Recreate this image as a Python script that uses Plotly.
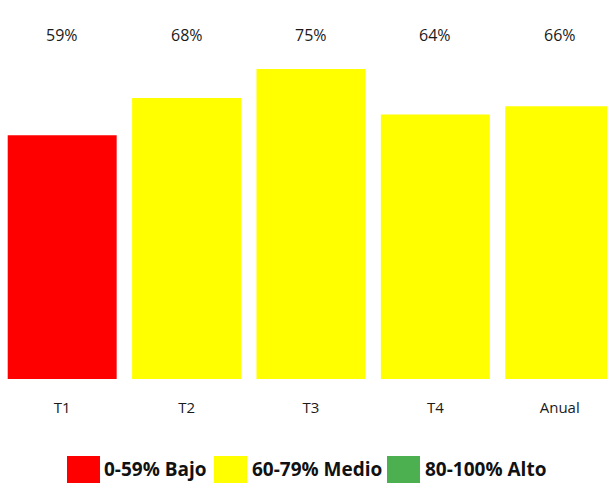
import plotly.graph_objects as go

categories = ["T1", "T2", "T3", "T4", "Anual"]
values = [59, 68, 75, 64, 66]
bar_colors = ["#FF0000", "#FFFF00", "#FFFF00", "#FFFF00", "#FFFF00"]
value_labels = ["59%", "68%", "75%", "64%", "66%"]
legend_labels = ["0-59% Bajo", "60-79% Medio", "80-100% Alto"]
legend_colors = ["#FF0000", "#FFFF00", "#4CAF50"]

W, H = 607, 483
PLOT_TOP, PLOT_BOTTOM = 7, 379
PH = PLOT_BOTTOM - PLOT_TOP


def py(p):
    """pixel row -> paper y"""
    return (PLOT_BOTTOM - p) / PH


fig = go.Figure()
fig.add_trace(go.Bar(x=categories, y=values, marker=dict(color=bar_colors, line=dict(width=0)),
                     hoverinfo="skip", showlegend=False))

annotations = []
for c, lab in zip(categories, value_labels):
    annotations.append(dict(x=c, y=py(35), xref="x", yref="paper", text=lab, showarrow=False,
                            font=dict(family="Open Sans", size=16, color="#1a1a1a"),
                            xanchor="center", yanchor="middle"))

shapes = []
sq_left = [67, 214, 387]
text_left = [102, 250, 423]
for i, (lab, col) in enumerate(zip(legend_labels, legend_colors)):
    shapes.append(dict(type="rect", xref="paper", yref="paper",
                       x0=sq_left[i] / W, x1=(sq_left[i] + 33) / W,
                       y0=py(456), y1=py(483),
                       fillcolor=col, line=dict(width=0), layer="above"))
    annotations.append(dict(x=text_left[i] / W, y=py(469), xref="paper", yref="paper",
                            text="<b>" + lab + "</b>", showarrow=False, xanchor="left", yanchor="middle",
                            font=dict(family="Open Sans", size=19, color="#111111")))

fig.update_layout(
    width=W, height=H,
    margin=dict(l=0, r=0, t=PLOT_TOP, b=H - PLOT_BOTTOM),
    paper_bgcolor="white", plot_bgcolor="white",
    bargap=0.124,
    xaxis=dict(range=[-0.5, 4.38], showgrid=False, zeroline=False, showline=False, ticks="",
               ticklabelstandoff=18, tickfont=dict(family="Open Sans", size=15, color="#1a1a1a")),
    yaxis=dict(range=[0, 90], visible=False),
    annotations=annotations, shapes=shapes,
)
fig.write_html("out.html", config={"displayModeBar": False},
               post_script="document.body.style.margin='0';")
